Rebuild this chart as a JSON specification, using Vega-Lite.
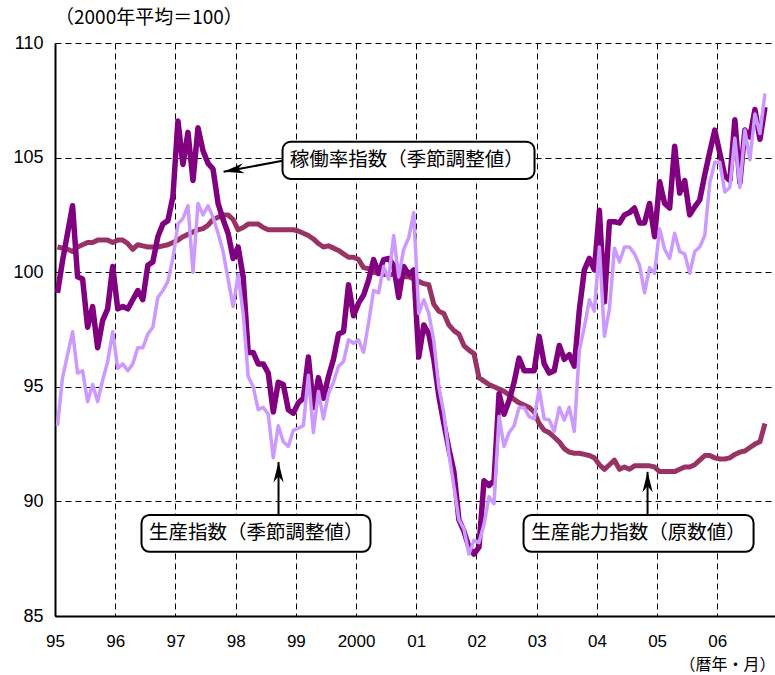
{
"$schema": "https://vega.github.io/schema/vega-lite/v6.json",
"width": 720, "height": 573,
"autosize": {"type": "none"},
"padding": {"left": 55, "top": 43, "right": 0, "bottom": 59},
"background": "white",
"config": {"view": {"stroke": null}},
"title": {"text": "（2000年平均＝100）", "anchor": "start", "frame": "group", "offset": 14, "dy": 27, "baseline": "bottom", "font": "Noto Sans CJK JP", "fontSize": 19, "fontWeight": "normal", "color": "#000"},
"datasets": {
"series": [
{"m":0,"op":99.1,"pr":93.3,"cap":101.1},{"m":1,"op":100.5,"pr":95.4,"cap":101.05},{"m":2,"op":101.7,"pr":96.4,"cap":101.0},{"m":3,"op":102.9,"pr":97.4,"cap":100.9},{"m":4,"op":99.8,"pr":95.6,"cap":101.1},{"m":5,"op":99.7,"pr":95.7,"cap":101.2},{"m":6,"op":97.6,"pr":94.35,"cap":101.3},{"m":7,"op":98.5,"pr":95.1,"cap":101.3},{"m":8,"op":96.7,"pr":94.35,"cap":101.4},{"m":9,"op":97.9,"pr":95.3,"cap":101.4},{"m":10,"op":98.4,"pr":96.1,"cap":101.4},{"m":11,"op":100.25,"pr":97.4,"cap":101.3},
{"m":12,"op":98.4,"pr":95.8,"cap":101.4},{"m":13,"op":98.5,"pr":96.0,"cap":101.4},{"m":14,"op":98.4,"pr":95.7,"cap":101.25},{"m":15,"op":98.8,"pr":96.0,"cap":101.0},{"m":16,"op":99.2,"pr":96.7,"cap":101.2},{"m":17,"op":98.8,"pr":96.7,"cap":101.15},{"m":18,"op":100.3,"pr":97.3,"cap":101.1},{"m":19,"op":100.45,"pr":97.6,"cap":101.1},{"m":20,"op":101.55,"pr":98.9,"cap":101.1},{"m":21,"op":102.1,"pr":99.2,"cap":101.15},{"m":22,"op":102.25,"pr":99.6,"cap":101.2},{"m":23,"op":103.3,"pr":100.6,"cap":101.3},
{"m":24,"op":106.6,"pr":102.1,"cap":101.4},{"m":25,"op":104.7,"pr":102.35,"cap":101.55},{"m":26,"op":106.1,"pr":102.9,"cap":101.65},{"m":27,"op":104.0,"pr":100.0,"cap":101.75},{"m":28,"op":106.3,"pr":103.0,"cap":101.85},{"m":29,"op":105.3,"pr":102.5,"cap":101.9},{"m":30,"op":104.75,"pr":102.9,"cap":102.05},{"m":31,"op":104.5,"pr":102.4,"cap":102.3},{"m":32,"op":103.0,"pr":101.7,"cap":102.4},{"m":33,"op":102.3,"pr":100.9,"cap":102.5},{"m":34,"op":101.7,"pr":99.7,"cap":102.5},{"m":35,"op":100.6,"pr":98.5,"cap":102.3},
{"m":36,"op":101.1,"pr":99.9,"cap":101.85},{"m":37,"op":99.8,"pr":98.2,"cap":101.95},{"m":38,"op":96.5,"pr":95.45,"cap":102.1},{"m":39,"op":96.5,"pr":95.0,"cap":102.1},{"m":40,"op":96.0,"pr":94.0,"cap":102.1},{"m":41,"op":96.0,"pr":94.1,"cap":101.95},{"m":42,"op":95.6,"pr":93.8,"cap":101.85},{"m":43,"op":93.9,"pr":91.9,"cap":101.85},{"m":44,"op":95.2,"pr":93.3,"cap":101.85},{"m":45,"op":95.1,"pr":92.6,"cap":101.85},{"m":46,"op":94.0,"pr":92.4,"cap":101.85},{"m":47,"op":93.85,"pr":93.1,"cap":101.85},
{"m":48,"op":94.3,"pr":93.2,"cap":101.8},{"m":49,"op":94.5,"pr":93.3,"cap":101.7},{"m":50,"op":96.3,"pr":95.5,"cap":101.6},{"m":51,"op":94.1,"pr":93.0,"cap":101.45},{"m":52,"op":95.4,"pr":94.8,"cap":101.25},{"m":53,"op":94.5,"pr":93.6,"cap":101.1},{"m":54,"op":95.45,"pr":94.7,"cap":101.15},{"m":55,"op":96.2,"pr":95.2,"cap":101.05},{"m":56,"op":97.3,"pr":95.9,"cap":100.95},{"m":57,"op":97.4,"pr":96.1,"cap":100.8},{"m":58,"op":99.45,"pr":97.05,"cap":100.65},{"m":59,"op":98.1,"pr":96.9,"cap":100.65},
{"m":60,"op":98.65,"pr":97.05,"cap":100.55},{"m":61,"op":99.0,"pr":96.5,"cap":100.2},{"m":62,"op":99.65,"pr":97.8,"cap":100.15},{"m":63,"op":100.55,"pr":99.2,"cap":100.0},{"m":64,"op":99.95,"pr":99.1,"cap":99.95},{"m":65,"op":100.55,"pr":100.25,"cap":99.9},{"m":66,"op":100.6,"pr":99.7,"cap":99.9},{"m":67,"op":100.3,"pr":101.6,"cap":99.9},{"m":68,"op":98.9,"pr":99.8,"cap":99.85},{"m":69,"op":100.25,"pr":101.0,"cap":99.8},{"m":70,"op":99.9,"pr":101.5,"cap":99.8},{"m":71,"op":100.1,"pr":102.6,"cap":99.7},
{"m":72,"op":96.3,"pr":98.2,"cap":99.6},{"m":73,"op":97.7,"pr":98.8,"cap":99.5},{"m":74,"op":97.3,"pr":98.2,"cap":99.45},{"m":75,"op":96.2,"pr":97.0,"cap":98.6},{"m":76,"op":94.6,"pr":95.0,"cap":98.3},{"m":77,"op":93.4,"pr":93.85,"cap":98.2},{"m":78,"op":92.3,"pr":92.1,"cap":97.7},{"m":79,"op":91.3,"pr":90.65,"cap":97.45},{"m":80,"op":89.2,"pr":89.2,"cap":97.3},{"m":81,"op":88.7,"pr":88.8,"cap":96.8},{"m":82,"op":88.0,"pr":87.7,"cap":96.6},{"m":83,"op":87.7,"pr":88.3,"cap":96.45},
{"m":84,"op":88.0,"pr":88.2,"cap":95.4},{"m":85,"op":90.9,"pr":89.0,"cap":95.25},{"m":86,"op":90.7,"pr":90.2,"cap":95.1},{"m":87,"op":90.9,"pr":89.9,"cap":95.0},{"m":88,"op":94.7,"pr":93.7,"cap":94.9},{"m":89,"op":93.8,"pr":92.4,"cap":94.8},{"m":90,"op":94.4,"pr":93.0,"cap":94.65},{"m":91,"op":95.2,"pr":93.3,"cap":94.45},{"m":92,"op":96.25,"pr":94.1,"cap":94.3},{"m":93,"op":95.7,"pr":94.1,"cap":94.2},{"m":94,"op":95.7,"pr":93.7,"cap":94.1},{"m":95,"op":95.7,"pr":93.6,"cap":93.9},
{"m":96,"op":97.2,"pr":94.9,"cap":93.4},{"m":97,"op":96.0,"pr":93.6,"cap":93.1},{"m":98,"op":95.6,"pr":93.55,"cap":93.0},{"m":99,"op":95.7,"pr":93.05,"cap":92.8},{"m":100,"op":96.8,"pr":94.1,"cap":92.6},{"m":101,"op":96.2,"pr":93.55,"cap":92.3},{"m":102,"op":96.4,"pr":94.1,"cap":92.15},{"m":103,"op":95.9,"pr":93.05,"cap":92.1},{"m":104,"op":98.35,"pr":96.6,"cap":92.1},{"m":105,"op":100.1,"pr":97.6,"cap":92.05},{"m":106,"op":100.6,"pr":98.8,"cap":92.0},{"m":107,"op":100.1,"pr":98.3,"cap":91.9},
{"m":108,"op":102.7,"pr":101.1,"cap":91.6},{"m":109,"op":98.7,"pr":97.2,"cap":91.4},{"m":110,"op":102.2,"pr":98.4,"cap":91.6},{"m":111,"op":102.2,"pr":101.05,"cap":91.8},{"m":112,"op":102.15,"pr":100.45,"cap":91.4},{"m":113,"op":102.5,"pr":101.1,"cap":91.5},{"m":114,"op":102.6,"pr":101.1,"cap":91.4},{"m":115,"op":102.8,"pr":100.8,"cap":91.55},{"m":116,"op":102.15,"pr":100.3,"cap":91.55},{"m":117,"op":102.15,"pr":99.1,"cap":91.55},{"m":118,"op":103.0,"pr":100.2,"cap":91.55},{"m":119,"op":101.55,"pr":99.95,"cap":91.5},
{"m":120,"op":103.95,"pr":101.9,"cap":91.3},{"m":121,"op":103.0,"pr":101.0,"cap":91.3},{"m":122,"op":102.8,"pr":100.6,"cap":91.3},{"m":123,"op":105.5,"pr":101.7,"cap":91.3},{"m":124,"op":103.45,"pr":100.9,"cap":91.4},{"m":125,"op":104.0,"pr":100.8,"cap":91.5},{"m":126,"op":102.5,"pr":99.95,"cap":91.5},{"m":127,"op":102.85,"pr":100.9,"cap":91.6},{"m":128,"op":103.15,"pr":101.1,"cap":91.8},{"m":129,"op":104.25,"pr":101.6,"cap":92.0},{"m":130,"op":105.25,"pr":103.9,"cap":92.0},{"m":131,"op":106.2,"pr":104.8,"cap":91.9},
{"m":132,"op":105.2,"pr":104.8,"cap":91.85},{"m":133,"op":104.2,"pr":103.5,"cap":91.85},{"m":134,"op":104.0,"pr":103.7,"cap":91.9},{"m":135,"op":106.65,"pr":105.85,"cap":92.05},{"m":136,"op":103.9,"pr":103.7,"cap":92.15},{"m":137,"op":106.2,"pr":106.2,"cap":92.2},{"m":138,"op":105.9,"pr":104.9,"cap":92.35},{"m":139,"op":107.1,"pr":106.9,"cap":92.5},{"m":140,"op":105.8,"pr":106.05,"cap":92.6},{"m":141,"op":107.2,"pr":107.8,"cap":93.4}
],
"notes": [
{"id":"op","label":"稼働率指数（季節調整値）","bx1":44.85,"bx2":95.07,"by1":105.69,"by2":104.07,"tx":69.6,"ty":104.88,"ax":44.85,"ay":104.86,"hx":33.1,"hy":104.38},
{"id":"pr","label":"生産指数（季節調整値）","bx1":16.74,"bx2":62.38,"by1":89.41,"by2":87.8,"tx":39.6,"ty":88.6,"ax":44.05,"ay":89.41,"hx":44.05,"hy":91.72},
{"id":"cap","label":"生産能力指数（原数値）","bx1":92.88,"bx2":138.73,"by1":89.41,"by2":87.8,"tx":115.8,"ty":88.6,"ax":117.6,"ay":89.41,"hx":117.6,"hy":91.29}
]
},
"layer": [
{"data": {"name": "series"},
 "mark": {"type": "line", "color": "#993366", "strokeWidth": 5, "strokeJoin": "round"},
 "encoding": {
  "x": {"field": "m", "type": "quantitative", "scale": {"domain": [-0.5, 143], "nice": false, "zero": false},
   "axis": {"values": [-0.5, 11.5, 23.5, 35.5, 47.5, 59.5, 71.5, 83.5, 95.5, 107.5, 119.5, 131.5],
    "labelExpr": "['95','96','97','98','99','2000','01','02','03','04','05','06'][round((datum.value + 0.5) / 12)]",
    "grid": true, "gridDash": [6, 4], "gridColor": "#000", "gridWidth": 1, "ticks": false,
    "domainColor": "#000", "domainWidth": 2, "labelFont": "Liberation Sans", "labelFontSize": 17, "labelColor": "#000",
    "labelPadding": 17, "labelFlush": false, "labelOverlap": false,
    "title": "（暦年・月）", "titleAnchor": "end", "titleFont": "Noto Sans CJK JP", "titleFontSize": 16, "titleFontWeight": "normal", "titleColor": "#000", "titlePadding": 7}},
  "y": {"field": "cap", "type": "quantitative", "scale": {"domain": [85, 110], "nice": false, "zero": false},
   "axis": {"values": [85, 90, 95, 100, 105, 110], "grid": true, "gridDash": [6, 4], "gridColor": "#000", "gridWidth": 1, "ticks": false,
    "domainColor": "#000", "domainWidth": 2, "labelFont": "Liberation Sans", "labelFontSize": 18, "labelColor": "#000", "labelPadding": 12, "title": null}}
 }},
{"mark": {"type": "rule", "color": "#000", "strokeWidth": 2}, "encoding": {"y": {"datum": 100, "type": "quantitative"}}},
{"mark": {"type": "rule", "color": "#000", "strokeWidth": 1.5}, "encoding": {"y": {"datum": 110, "type": "quantitative"}}},
{"data": {"name": "series"},
 "mark": {"type": "line", "color": "#800080", "strokeWidth": 5.5, "strokeJoin": "round"},
 "encoding": {"x": {"field": "m", "type": "quantitative"}, "y": {"field": "op", "type": "quantitative"}}},
{"data": {"name": "series"},
 "mark": {"type": "line", "color": "#CC99FF", "strokeWidth": 3.5, "strokeJoin": "round"},
 "encoding": {"x": {"field": "m", "type": "quantitative"}, "y": {"field": "pr", "type": "quantitative"}}},
{"data": {"name": "notes"},
 "mark": {"type": "rect", "fill": "white", "stroke": "#000", "strokeWidth": 2, "cornerRadius": 8},
 "encoding": {"x": {"field": "bx1", "type": "quantitative"}, "x2": {"field": "bx2"}, "y": {"field": "by1", "type": "quantitative"}, "y2": {"field": "by2"}}},
{"data": {"name": "notes"},
 "mark": {"type": "rule", "color": "#000", "strokeWidth": 2},
 "encoding": {"x": {"field": "ax", "type": "quantitative"}, "x2": {"field": "hx"}, "y": {"field": "ay", "type": "quantitative"}, "y2": {"field": "hy"}}},
{"data": {"name": "notes"},
 "transform": [{"filter": "datum.id === 'op'"}],
 "mark": {"type": "point", "shape": "M0,0L0.5,2L0,1.4L-0.5,2Z", "filled": true, "color": "#000", "opacity": 1, "size": 420, "angle": 260},
 "encoding": {"x": {"field": "hx", "type": "quantitative"}, "y": {"field": "hy", "type": "quantitative"}}},
{"data": {"name": "notes"},
 "transform": [{"filter": "datum.id !== 'op'"}],
 "mark": {"type": "point", "shape": "M0,0L0.5,2L0,1.4L-0.5,2Z", "filled": true, "color": "#000", "opacity": 1, "size": 420, "angle": 0},
 "encoding": {"x": {"field": "hx", "type": "quantitative"}, "y": {"field": "hy", "type": "quantitative"}}},
{"data": {"name": "notes"},
 "mark": {"type": "text", "font": "Noto Sans CJK JP", "fontSize": 19.5, "color": "#000", "align": "center", "baseline": "middle"},
 "encoding": {"x": {"field": "tx", "type": "quantitative"}, "y": {"field": "ty", "type": "quantitative"}, "text": {"field": "label"}}}
]
}
